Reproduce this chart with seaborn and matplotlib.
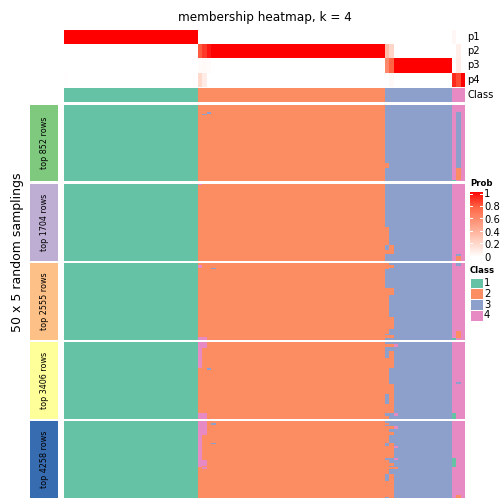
import numpy as np
import pandas as pd
import matplotlib
matplotlib.use("Agg")
import matplotlib.pyplot as plt
import seaborn as sns
from matplotlib.colors import ListedColormap, LinearSegmentedColormap
from matplotlib.patches import Rectangle

# ---------------- data ----------------
title = "membership heatmap, k = 4"
ylabel = "50 x 5 random samplings"
class_names = ["1", "2", "3", "4"]
class_colors = ["#66C2A5", "#FC8D62", "#8DA0CB", "#E78AC3"]
col_class = [1] * 30 + [2] * 42 + [3] * 15 + [4] * 3

p1 = [1.0] * 30 + [0.0] * 42 + [0.0] * 15 + [0.04, 0.0, 0.0]
p2 = [0.0] * 30 + [0.78, 0.86, 0.94] + [1.0] * 39 + [0.35, 0.22] + [0.0] * 13 + [0.0, 0.08, 0.0]
p3 = [0.0] * 30 + [0.02, 0.03, 0.02] + [0.0] * 39 + [0.6, 0.76] + [1.0] * 13 + [0.0, 0.1, 0.0]
p4 = [0.01] + [0.0] * 29 + [0.2, 0.1] + [0.0] * 40 + [0.0, 0.03] + [0.0] * 13 + [0.9, 0.82, 1.0]
prob_names = ["p1", "p2", "p3", "p4"]

slice_labels = ["top 852 rows", "top 1704 rows", "top 2555 rows", "top 3406 rows", "top 4258 rows"]
slice_colors = ["#7FC97F", "#BEAED4", "#FDC086", "#FFFF99", "#386CB0"]
n_samplings = 50

# (slice, row_start, row_end, col_start, col_end, class)
exceptions = [
    (0, 5, 6, 32, 33, 3), (0, 6, 7, 31, 32, 3),
    (0, 38, 41, 72, 73, 2),
    (0, 5, 41, 88, 89, 3), (0, 41, 49, 88, 89, 2), (0, 49, 50, 87, 88, 1),

    (1, 0, 1, 30, 31, 4),
    (1, 28, 40, 72, 73, 2), (1, 40, 46, 73, 74, 2), (1, 43, 46, 72, 73, 2),
    (1, 46, 47, 88, 89, 3), (1, 47, 50, 88, 89, 2),

    (2, 1, 3, 30, 31, 4), (2, 3, 4, 33, 34, 3), (2, 48, 50, 30, 32, 4),
    (2, 0, 4, 72, 73, 2), (2, 1, 3, 73, 74, 2), (2, 16, 21, 72, 74, 2),
    (2, 21, 35, 72, 73, 2), (2, 35, 43, 72, 74, 2), (2, 43, 46, 72, 73, 2),
    (2, 47, 49, 72, 74, 2),
    (2, 0, 2, 88, 89, 3), (2, 44, 49, 88, 89, 2), (2, 49, 50, 87, 88, 1),

    (3, 0, 4, 30, 32, 4), (3, 4, 17, 30, 31, 4), (3, 17, 18, 32, 33, 3), (3, 46, 50, 30, 32, 4),
    (3, 1, 3, 72, 74, 2), (3, 1, 3, 74, 75, 4), (3, 6, 10, 73, 74, 2), (3, 10, 17, 72, 74, 2),
    (3, 17, 27, 72, 73, 2), (3, 27, 34, 72, 74, 2), (3, 34, 40, 73, 74, 2), (3, 40, 46, 72, 74, 2),
    (3, 46, 48, 74, 75, 4), (3, 48, 50, 72, 73, 2),
    (3, 26, 27, 88, 89, 3), (3, 46, 50, 87, 88, 1),

    (4, 0, 9, 30, 32, 4), (4, 9, 25, 30, 31, 4), (4, 25, 29, 30, 32, 4), (4, 29, 30, 30, 31, 4),
    (4, 30, 31, 31, 32, 4), (4, 1, 2, 33, 34, 3), (4, 14, 15, 33, 34, 3),
    (4, 1, 2, 72, 73, 2), (4, 3, 5, 72, 74, 2), (4, 3, 5, 74, 75, 4), (4, 5, 13, 72, 73, 2),
    (4, 7, 9, 73, 74, 2), (4, 13, 14, 72, 73, 2), (4, 14, 16, 73, 74, 2), (4, 16, 24, 72, 74, 2),
    (4, 16, 17, 74, 75, 4), (4, 24, 25, 74, 75, 4), (4, 25, 31, 72, 73, 2), (4, 27, 29, 73, 74, 2),
    (4, 30, 31, 73, 75, 2), (4, 31, 34, 72, 73, 2), (4, 34, 39, 73, 74, 2), (4, 39, 49, 72, 74, 2),
    (4, 49, 50, 73, 74, 2),
    (4, 24, 30, 87, 88, 1), (4, 48, 50, 88, 89, 2),
]

prob_ticks = [0, 0.2, 0.4, 0.6, 0.8, 1]

# ---------------- build ----------------
W = H = 504
fig = plt.figure(figsize=(7, 7), dpi=72)
plt.rcParams['font.family'] = ['DejaVu Sans']

def px_ax(x0, y0, x1, y1):
    return fig.add_axes([x0 / W, 1 - y1 / H, (x1 - x0) / W, (y1 - y0) / H])

def fx(x):
    return x / W

def fy(y):
    return 1 - y / H

class_cmap = ListedColormap(class_colors)
prob_cmap = LinearSegmentedColormap.from_list(
    "prob", [(0, "#FFFFFF"), (0.25, "#FFCFBF"), (0.5, "#FF9D82"), (0.75, "#FF6847"), (1, "#FF0000")])

X0, X1 = 64.0, 465.3

# probability annotation
prob_df = pd.DataFrame([p1, p2, p3, p4], index=prob_names)
ax = px_ax(X0, 30.0, X1, 86.7)
sns.heatmap(prob_df, ax=ax, cmap=prob_cmap, vmin=0, vmax=1, cbar=False,
            xticklabels=False, yticklabels=False, linewidths=0)
ax.set_xlabel(""); ax.set_ylabel("")
for i, nm in enumerate(prob_names):
    fig.text(fx(467.5), fy(30.0 + 14.17 * (i + 0.5)), nm, fontsize=10, va="center", ha="left")

# class annotation
ax = px_ax(X0, 87.8, X1, 101.6)
sns.heatmap(pd.DataFrame([col_class]), ax=ax, cmap=class_cmap, vmin=0.5, vmax=4.5, cbar=False,
            xticklabels=False, yticklabels=False, linewidths=0)
ax.set_xlabel(""); ax.set_ylabel("")
fig.text(fx(467.5), fy(94.7), "Class", fontsize=10, va="center", ha="left")

# slices
top0, sh, gap = 104.7, 76.6, 2.6
for s in range(5):
    mat = np.tile(np.array(col_class), (n_samplings, 1))
    for (si, r0, r1, c0, c1, cl) in exceptions:
        if si == s:
            mat[r0:r1, c0:c1] = cl
    y0 = top0 + s * (sh + gap)
    ax = px_ax(X0, y0, X1, y0 + sh)
    sns.heatmap(pd.DataFrame(mat), ax=ax, cmap=class_cmap, vmin=0.5, vmax=4.5, cbar=False,
                xticklabels=False, yticklabels=False, linewidths=0)
    ax.set_xlabel(""); ax.set_ylabel("")
    # slice label box
    fig.patches.append(Rectangle((fx(30.0), fy(y0 + sh)), (58.3 - 30.0) / W, sh / H,
                                 transform=fig.transFigure, facecolor=slice_colors[s],
                                 edgecolor="none", zorder=0))
    fig.text(fx(44.2), fy(y0 + sh / 2), slice_labels[s], rotation=90, fontsize=8,
             va="center", ha="center")

fig.text(fx(18.0), fy(252.0), ylabel, rotation=90, fontsize=12.5, va="center", ha="center")
fig.text(fx(264.6), fy(17.5), title, fontsize=12, va="center", ha="center")

# Prob legend
fig.text(fx(470.0), fy(184.0), "Prob", fontsize=8.5, fontweight="bold", va="center", ha="left")
cb_top, cb_bot = 191.7, 257.0
cax = px_ax(470.0, cb_top, 482.7, cb_bot)
cax.imshow(np.linspace(1, 0, 256)[:, None], aspect="auto", cmap=prob_cmap, vmin=0, vmax=1,
           extent=[0, 1, -0.02, 1.03])
cax.set_xlim(0, 1); cax.set_ylim(-0.02, 1.03)
cax.set_axis_off()
for t in prob_ticks:
    cax.plot([0, 0.18], [t, t], color="white", lw=1)
    cax.plot([0.82, 1], [t, t], color="white", lw=1)
    yy = 258.3 - t * 64.0
    fig.text(fx(484.0), fy(yy), f"{t:g}", fontsize=10, va="center", ha="left")

# Class legend
fig.text(fx(470.0), fy(270.5), "Class", fontsize=8.5, fontweight="bold", va="center", ha="left")
for i, (nm, c) in enumerate(zip(class_names, class_colors)):
    yt = 277.5 + i * 10.8
    fig.patches.append(Rectangle((fx(470.0), fy(yt + 10.8)), 12.7 / W, 10.8 / H,
                                 transform=fig.transFigure, facecolor=c, edgecolor="white", lw=1))
    fig.text(fx(484.0), fy(yt + 5.4), nm, fontsize=10, va="center", ha="left")

fig.savefig("out.png", dpi=72)
